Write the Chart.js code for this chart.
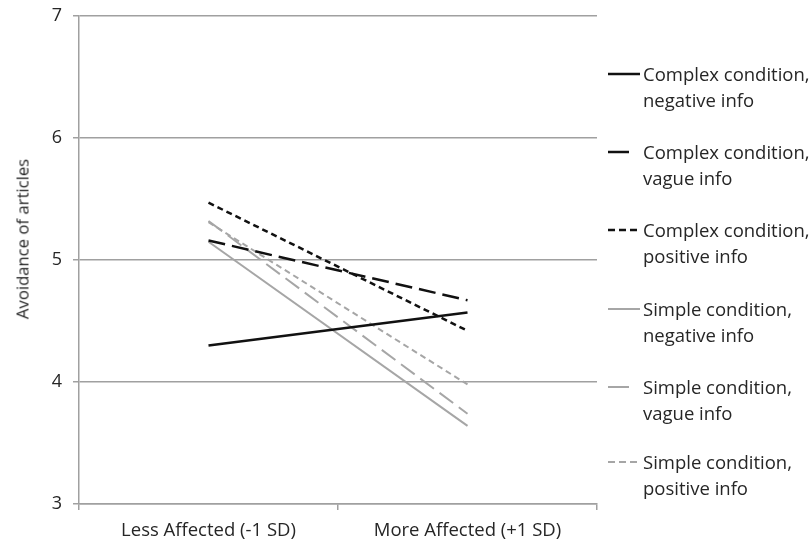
<!DOCTYPE html>
<html><head><meta charset="utf-8">
<script src="https://cdn.jsdelivr.net/npm/chart.js@4/dist/chart.umd.min.js"></script>
<style>
html,body{margin:0;padding:0;background:#fff;}
#wrap{position:relative;width:811px;height:544px;}
canvas{position:absolute;left:0;top:0;}
#legend{position:absolute;left:606px;top:0;font-family:"Open Sans",sans-serif;font-size:18.5px;color:#262626;}
.item{position:absolute;left:0;width:210px;}
.item svg{position:absolute;left:0;top:11px;}
.item .t{position:absolute;left:37px;top:0;line-height:26px;white-space:nowrap;}
#ytitle{position:absolute;left:22px;top:239px;transform:translate(-50%,-50%) rotate(-90deg);font-family:"Open Sans",sans-serif;font-size:16.7px;color:#262626;white-space:nowrap;}
</style></head>
<body><div id="wrap"><canvas id="c" width="811" height="544"></canvas><div id="ytitle">Avoidance of articles</div><div id="legend"></div></div>
<script>
const categories = ["Less Affected (-1 SD)", "More Affected (+1 SD)"];
const complexNegative = [4.30, 4.57];
const complexVague = [5.16, 4.67];
const complexPositive = [5.47, 4.42];
const simpleNegative = [5.15, 3.64];
const simpleVague = [5.32, 3.74];
const simplePositive = [5.31, 3.98];
const seriesNames = [
  ["Complex condition,", "negative info"],
  ["Complex condition,", "vague info"],
  ["Complex condition,", "positive info"],
  ["Simple condition,", "negative info"],
  ["Simple condition,", "vague info"],
  ["Simple condition,", "positive info"]
];
const yTicks = [3, 4, 5, 6, 7];

const BLACK = "#111111", GRAY = "#a6a6a6";
const LONG = [17, 7], SHORT = [6, 4], SOLID = [];
const styles = [
  {c: BLACK, w: 2.5, d: SOLID},
  {c: BLACK, w: 2.5, d: LONG},
  {c: BLACK, w: 2.5, d: SHORT},
  {c: GRAY, w: 2, d: SOLID},
  {c: GRAY, w: 2, d: LONG},
  {c: GRAY, w: 2, d: SHORT}
];
const values = [complexNegative, complexVague, complexPositive, simpleNegative, simpleVague, simplePositive];

const datasets = values.map((v, i) => ({
  label: seriesNames[i].join(" "),
  data: v,
  borderColor: styles[i].c,
  borderWidth: styles[i].w,
  borderDash: styles[i].d,
  pointRadius: 0,
  fill: false,
  tension: 0
}));

new Chart(document.getElementById("c"), {
  type: "line",
  data: {labels: categories, datasets},
  options: {
    responsive: false,
    animation: false,
    events: [],
    layout: {padding: {top: 16, right: 214, left: 0, bottom: 0}},
    plugins: {legend: {display: false}, tooltip: {enabled: false}},
    scales: {
      x: {
        offset: true,
        grid: {drawOnChartArea: false, color: "#a0a0a0", lineWidth: 1.5, tickLength: 6, offset: true},
        border: {color: "#a0a0a0", width: 1.5},
        ticks: {color: "#262626", font: {family: "Open Sans", size: 18.5}, padding: 10, maxRotation: 0},
        afterFit: s => { s.height = 40; s.paddingLeft = 0; s.paddingRight = 0; }
      },
      y: {
        min: 3, max: 7,
        afterBuildTicks: s => { s.ticks = yTicks.map(v => ({value: v})); },
        grid: {color: "#a0a0a0", lineWidth: 1.5, tickLength: 6},
        border: {color: "#a0a0a0", width: 1.5},
        ticks: {color: "#262626", font: {family: "Open Sans", size: 18}, padding: 11},
        afterFit: s => { s.width = 79; s.paddingTop = 0; s.paddingBottom = 0; }
      }
    }
  }
});

const leg = document.getElementById("legend");
const tops = [74, 152, 230, 309, 387, 462];
seriesNames.forEach((n, i) => {
  const d = document.createElement("div");
  d.className = "item";
  d.style.top = (tops[i] - 13) + "px";
  const st = styles[i];
  const dash = st.d === LONG ? '21,20' : (st.d === SHORT ? '7,4' : 'none');
  d.innerHTML = `<svg width="34" height="4"><line x1="2" y1="2" x2="34" y2="2" stroke="${st.c}" stroke-width="${st.w}" stroke-dasharray="${dash}"/></svg><div class="t">${n[0]}<br>${n[1]}</div>`;
  leg.appendChild(d);
});
</script></body></html>
